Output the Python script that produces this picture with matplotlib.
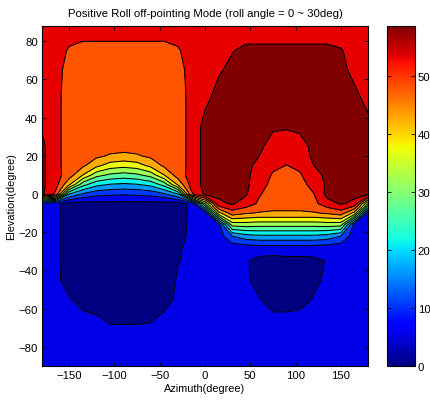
import numpy as np
import matplotlib
matplotlib.use("Agg")
import matplotlib.pyplot as plt
from matplotlib import cm
from matplotlib.colors import Normalize

plt.rcParams['font.family'] = ['Liberation Sans', 'DejaVu Sans']

# ---- data ----
title = "Positive Roll off-pointing Mode (roll angle = 0 ~ 30deg)"
x_label = "Azimuth(degree)"
y_label = "Elevation(degree)"

azimuth = [-180, -165, -150, -135, -120, -105, -90, -75, -60, -45, -30, -15,
           0, 15, 30, 45, 60, 75, 90, 105, 120, 135, 150, 165, 180]
elevation = [-90, -75, -65, -55, -45, -35, -28, -22, -16, -10, -5, 0,
             5, 10, 15, 20, 25, 35, 50, 65, 75, 82, 88]

# one list per elevation row, columns follow `azimuth`
el_m90 = [7, 7, 7, 7, 7, 7, 7, 7, 7, 7, 7, 7, 7, 7, 7, 7, 7, 7, 7, 7, 7, 7, 7, 7, 7]
el_m75 = [7, 7, 7, 7, 6.8, 6.5, 6.5, 6.5, 6.5, 7, 7, 7, 7, 7, 7, 7, 7, 7, 7, 7, 7, 7, 7, 7, 7]
el_m65 = [7, 6.8, 6.5, 6, 5.5, 4.3, 4.3, 4.3, 4.5, 5.8, 6.3, 6.5, 7, 7, 7, 6.5, 6.5, 6, 6, 6.2, 6.5, 6.5, 7, 7, 7]
el_m55 = [7, 6.5, 5.3, 3.5, 2.5, 2.5, 2.5, 2.5, 2.5, 3.5, 5.8, 6.3, 7, 7, 7, 6.2, 5.2, 3, 3, 3.5, 5.3, 6.2, 7, 7, 7]
el_m45 = [7, 6.2, 3, 2.5, 2.5, 2.2, 2.2, 2.2, 2.5, 2.5, 5.5, 6.2, 7, 7, 7, 5.8, 3.2, 2.5, 2.5, 2.5, 4, 5.8, 7, 7, 7]
el_m35 = [7, 6, 2.8, 2.5, 2.2, 2.2, 2.2, 2.2, 2.2, 2.5, 4.8, 6, 7, 7, 7, 5.5, 3.5, 3, 3.5, 3.5, 3.8, 5.3, 7, 7, 7]
el_m28 = [7, 6, 2.8, 2.5, 2.2, 2.2, 2.2, 2.2, 2.2, 2.5, 4.5, 6, 7, 7, 7, 7.5, 8, 8, 8, 8, 8, 7.5, 7, 7, 7]
el_m22 = [7, 6, 2.8, 2.5, 2.2, 2.2, 2.2, 2.2, 2.2, 2.5, 3.5, 6, 7, 7, 15, 18, 19, 19, 19, 19, 19, 18, 15, 7, 7]
el_m16 = [7, 6, 2.8, 2.5, 2.2, 2.2, 2.2, 2.2, 2.2, 2.5, 3, 6, 7, 8, 32, 32.5, 32, 32, 32, 32, 32, 32.5, 32, 8, 7]
el_m10 = [7, 6, 2.8, 2.5, 2.5, 2.5, 2.5, 2.5, 2.5, 2.5, 2.8, 6, 6, 38, 47.5, 45.5, 44.5, 44.5, 44.5, 44.5, 44.5, 45.5, 47.5, 38, 6.5]
el_m05 = [7, 6, 3, 3, 3.5, 3.5, 3.5, 3.5, 3.5, 3, 3, 6, 30, 54, 55.5, 53, 49, 46.5, 46.5, 46.5, 48.5, 53, 55.5, 54, 30]
el_p00 = [56, 49, 20, 14.3, 11.6, 11, 10.5, 11, 11.6, 14.3, 20, 49, 56, 56, 56, 55.6, 50.5, 47.5, 47, 47.5, 49.8, 56.5, 56, 56, 56]
el_p05 = [56, 52, 40.8, 27, 21.5, 19.7, 19, 19.7, 21.5, 27, 40.8, 52, 56.5, 56, 56, 56, 52, 48.5, 48, 48.5, 51.5, 56, 56, 56, 56]
el_p10 = [56, 52, 47.5, 40, 32, 29.1, 28, 29.1, 32, 40, 47.5, 52, 56.5, 56, 56, 56, 53, 49.5, 49, 49.5, 53.5, 56, 56, 56, 56]
el_p15 = [56, 52, 47, 46, 41.5, 37.8, 36.7, 37.8, 41.5, 46, 47, 52, 56.5, 56, 56, 56, 54, 51, 49.9, 51, 55, 56, 56, 56, 56]
el_p20 = [56, 52, 47, 47, 46, 44.5, 43.8, 44.5, 46, 47, 47, 52, 56.5, 56, 56, 56, 55, 52, 51.5, 52.5, 56, 56, 56, 56, 56]
el_p25 = [56, 52, 47, 47, 47, 47, 47, 47, 47, 47, 47, 52, 56.5, 56, 56, 56, 56, 53, 53, 53.5, 56, 56, 56, 56, 56]
el_p35 = [54.5, 52, 47, 47, 47, 47, 47, 47, 47, 47, 47, 52, 56.5, 56, 56, 56, 56, 55.6, 55.3, 55.8, 56, 56, 56, 56, 56]
el_p50 = [52, 52, 47, 47, 47, 47, 47, 47, 47, 47, 47, 52, 54, 56.5, 56, 56, 56, 56, 56, 56, 56, 56, 56, 56, 54]
el_p65 = [52, 52, 48, 47, 47, 47, 47, 47, 47, 47, 48, 52, 52, 54.5, 56, 56, 56, 56, 56, 56, 56, 56, 56, 54, 52]
el_p75 = [52, 52, 49.5, 47.5, 47.5, 47.5, 47.5, 47.5, 47.5, 47.5, 49.5, 52, 52, 52.5, 54.8, 56, 56, 56, 56, 56, 56, 56, 55.5, 52.5, 52]
el_p82 = [52, 52, 51, 51, 51, 51, 51, 51, 51, 51, 51, 52, 52, 52, 52.5, 54, 54, 54, 54, 54, 54, 54, 53, 52, 52]
el_p88 = [52, 52, 52, 52, 52, 52, 52, 52, 52, 52, 52, 52, 52, 52, 52, 52, 52, 52, 52, 52, 52, 52, 52, 52, 52]

contour_levels = [0, 5, 10, 15, 20, 25, 30, 35, 40, 45, 50, 55, 60]
colorbar_ticks = [0, 10, 20, 30, 40, 50]
colorbar_max = 58.6
x_ticks = [-150, -100, -50, 0, 50, 100, 150]
y_ticks = [-80, -60, -40, -20, 0, 20, 40, 60, 80]

# ---- build field ----
Z = np.array([el_m90, el_m75, el_m65, el_m55, el_m45, el_m35, el_m28, el_m22,
              el_m16, el_m10, el_m05, el_p00, el_p05, el_p10, el_p15, el_p20,
              el_p25, el_p35, el_p50, el_p65, el_p75, el_p82, el_p88], dtype=float)
AZ = np.array(azimuth, dtype=float)
EL = np.array(elevation, dtype=float)

jet = plt.get_cmap('jet')
fill_colors = [jet(lv / 55.0) for lv in contour_levels[:-1]]

W, H = 430, 406
fig = plt.figure(figsize=(W / 100, H / 100), dpi=100)
ax = fig.add_axes([42 / W, (H - 367) / H, 326 / W, 340 / H])
cax = fig.add_axes([387 / W, (H - 367) / H, 28 / W, 340 / H])

ax.contourf(AZ, EL, Z, levels=contour_levels, colors=fill_colors)
ax.contour(AZ, EL, Z, levels=contour_levels[1:-1], colors='k', linewidths=0.75)

ax.set_xlim(-180, 180)
ax.set_ylim(-90, 88)
ax.set_xticks(x_ticks)
ax.set_yticks(y_ticks)
ax.tick_params(direction='in', top=True, right=True, length=3, width=0.6,
               labelsize=8.2, pad=3)
for s in ax.spines.values():
    s.set_linewidth(0.8)
ax.set_title(title, fontsize=8.2, pad=7)
ax.set_xlabel(x_label, fontsize=7.8, labelpad=2)
ax.set_ylabel(y_label, fontsize=7.8, labelpad=2)

sm = cm.ScalarMappable(norm=Normalize(0, colorbar_max), cmap=jet)
cb = fig.colorbar(sm, cax=cax, ticks=colorbar_ticks)
cb.outline.set_linewidth(0.8)
cax.yaxis.set_ticks_position('both')
cax.yaxis.set_label_position('right')
cax.tick_params(direction='in', length=3, width=0.6, labelsize=8.2,
                labelleft=False, labelright=True, pad=2)

fig.savefig("out.png", dpi=100)
